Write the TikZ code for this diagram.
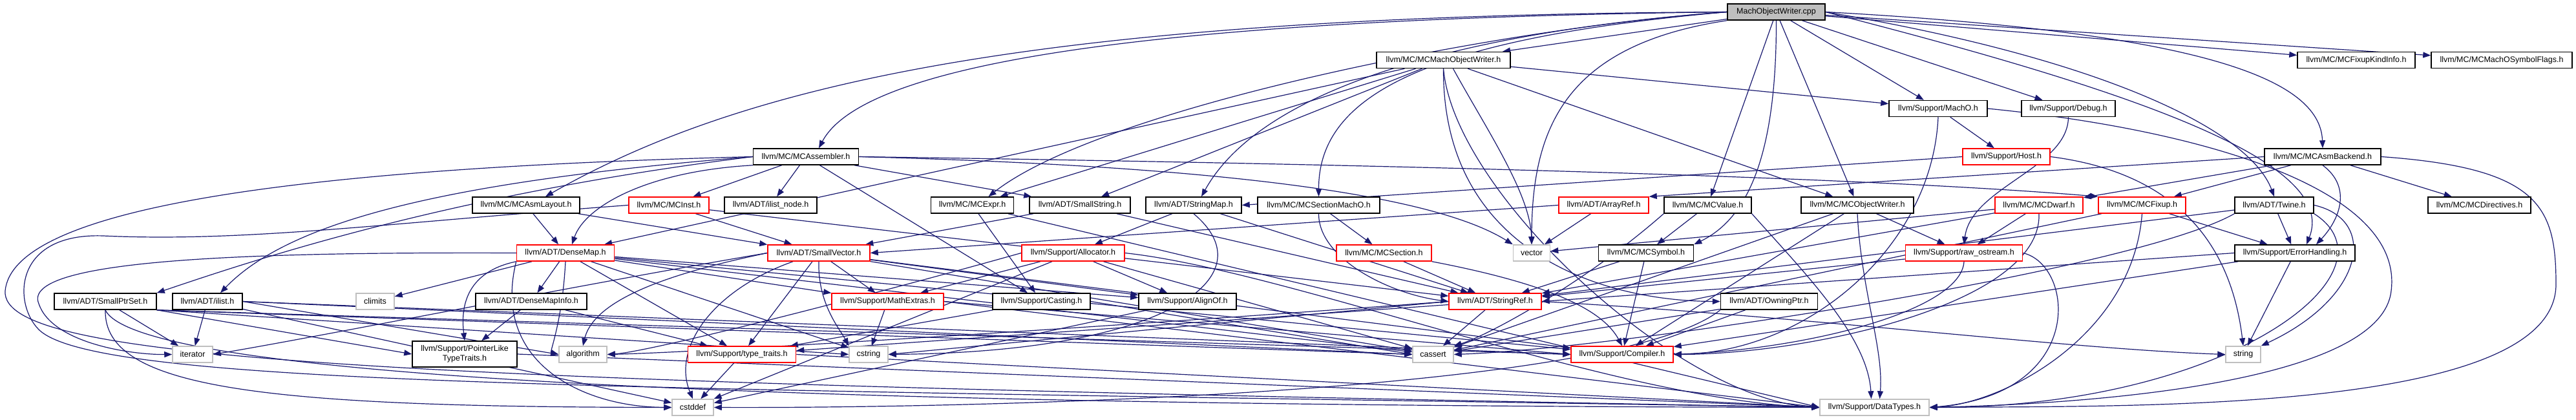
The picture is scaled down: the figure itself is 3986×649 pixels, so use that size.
\documentclass[tikz,border=0pt]{standalone}
\usepackage{fontspec}
\setmainfont{Liberation Sans}
\usetikzlibrary{arrows.meta,calc}
\definecolor{edgec}{HTML}{191970}
\definecolor{sysgray}{HTML}{BFBFBF}
\definecolor{rootfill}{HTML}{BFBFBF}
\definecolor{trunc}{HTML}{FF0000}
\pgfdeclarelayer{bg}
\pgfsetlayers{bg,main}
\newcommand\dxfont{\fontsize{12.5}{15}\selectfont}
\tikzset{
  box/.style={draw=black, fill=white, line width=1.5pt, minimum height=25pt, inner xsep=0pt, inner ysep=0pt, font=\dxfont, text=black, align=center},
  rbox/.style={box, draw=trunc},
  gbox/.style={box, draw=sysgray},
  e/.style={draw=edgec, line width=1.2pt, -{Triangle[length=12pt,width=9pt]}},
}
\begin{document}
\begin{tikzpicture}[x=1pt,y=-1pt]
\useasboundingbox (0,0) rectangle (3986,649);
% row 0
\node[box,fill=rootfill,minimum width=151pt] (cpp) at (2748.5,18.5) {MachObjectWriter.cpp};
% row 1
\node[box,minimum width=207pt] (mow) at (2233.5,93) {llvm/MC/MCMachObjectWriter.h};
\node[box,minimum width=182pt] (fki) at (3646,93) {llvm/MC/MCFixupKindInfo.h};
\node[box,minimum width=218pt] (msf) at (3871,93) {llvm/MC/MCMachOSymbolFlags.h};
% row 2
\node[box,minimum width=152pt] (macho) at (2999,168) {llvm/Support/MachO.h};
\node[box,minimum width=145pt] (debug) at (3200.5,168) {llvm/Support/Debug.h};
% row 3
\node[box,minimum width=163pt] (asm) at (1247,242.5) {llvm/MC/MCAssembler.h};
\node[rbox,minimum width=135pt] (host) at (3104.5,242.5) {llvm/Support/Host.h};
\node[box,minimum width=180pt] (backend) at (3594,242.5) {llvm/MC/MCAsmBackend.h};
% row 4
\node[box,minimum width=166pt] (layout) at (814,317.5) {llvm/MC/MCAsmLayout.h};
\node[rbox,minimum width=124pt] (inst) at (1035,317.5) {llvm/MC/MCInst.h};
\node[box,minimum width=143pt] (ilnode) at (1192.5,317.5) {llvm/ADT/ilist\_node.h};
\node[box,minimum width=128pt] (expr) at (1504.5,317.5) {llvm/MC/MCExpr.h};
\node[box,minimum width=156pt] (sstr) at (1671,317.5) {llvm/ADT/SmallString.h};
\node[box,minimum width=148pt] (smap) at (1847,317.5) {llvm/ADT/StringMap.h};
\node[box,minimum width=189pt] (secmo) at (2040.5,317.5) {llvm/MC/MCSectionMachO.h};
\node[rbox,minimum width=139pt] (aref) at (2481.5,317.5) {llvm/ADT/ArrayRef.h};
\node[box,minimum width=135pt] (value) at (2642.5,317.5) {llvm/MC/MCValue.h};
\node[box,minimum width=174pt] (ow) at (2874,317.5) {llvm/MC/MCObjectWriter.h};
\node[rbox,minimum width=136pt] (dwarf) at (3155,317.5) {llvm/MC/MCDwarf.h};
\node[rbox,minimum width=135pt] (fixup) at (3314.5,317.5) {llvm/MC/MCFixup.h};
\node[box,minimum width=122pt] (twine) at (3519,317.5) {llvm/ADT/Twine.h};
\node[box,minimum width=159pt] (dirs) at (3836.5,317.5) {llvm/MC/MCDirectives.h};
% row 5
\node[rbox,minimum width=151pt] (dmap) at (875,391.5) {llvm/ADT/DenseMap.h};
\node[rbox,minimum width=158pt] (svec) at (1267,391.5) {llvm/ADT/SmallVector.h};
\node[rbox,minimum width=159pt] (alloc) at (1660.5,391.5) {llvm/Support/Allocator.h};
\node[rbox,minimum width=147pt] (section) at (2141.5,391.5) {llvm/MC/MCSection.h};
\node[gbox,minimum width=57pt] (vector) at (2370,391.5) {vector};
\node[box,minimum width=147pt] (symbol) at (2547,391.5) {llvm/MC/MCSymbol.h};
\node[rbox,minimum width=181pt] (rawos) at (3039,391.5) {llvm/Support/raw\_ostream.h};
\node[box,minimum width=186pt] (errh) at (3551,391.5) {llvm/Support/ErrorHandling.h};
% row 6
\node[box,minimum width=158pt] (sps) at (163,466.5) {llvm/ADT/SmallPtrSet.h};
\node[box,minimum width=108pt] (ilist) at (321,466.5) {llvm/ADT/ilist.h};
\node[gbox,minimum width=59pt] (climits) at (580.5,466.5) {climits};
\node[box,minimum width=172pt] (dmi) at (822,466.5) {llvm/ADT/DenseMapInfo.h};
\node[rbox,minimum width=173pt] (mathx) at (1373.5,466.5) {llvm/Support/MathExtras.h};
\node[box,minimum width=151pt] (casting) at (1611.5,466.5) {llvm/Support/Casting.h};
\node[box,minimum width=151pt] (alignof) at (1837.5,466.5) {llvm/Support/AlignOf.h};
\node[rbox,minimum width=143pt] (sref) at (2313.5,466.5) {llvm/ADT/StringRef.h};
\node[box,minimum width=150pt] (owning) at (2737.5,466.5) {llvm/ADT/OwningPtr.h};
% row 7
\node[gbox,minimum width=62pt] (iterator) at (298,548.5) {iterator};
\node[box,minimum width=162pt,minimum height=40pt] (plt) at (719,548) {llvm/Support/PointerLike\\TypeTraits.h};
\node[gbox,minimum width=74pt] (algorithm) at (902,548.5) {algorithm};
\node[rbox,minimum width=167pt] (ttraits) at (1148,548.5) {llvm/Support/type\_traits.h};
\node[gbox,minimum width=60pt] (cstring) at (1344,548.5) {cstring};
\node[gbox,minimum width=63pt] (cassert) at (2217.5,548.5) {cassert};
\node[rbox,minimum width=158pt] (compiler) at (2510,548.5) {llvm/Support/Compiler.h};
\node[gbox,minimum width=54pt] (string) at (3471,548.5) {string};
% row 8
\node[gbox,minimum width=64pt] (cstddef) at (1072,630.5) {cstddef};
\node[gbox,minimum width=169pt] (datatypes) at (2900.5,630.5) {llvm/Support/DataTypes.h};

\begin{pgfonlayer}{bg}
\fill[white] (0,0) rectangle (3986,649);
% MachObjectWriter.cpp
\draw[e] (cpp) -- (mow);
\draw[e] (cpp.west) .. controls (1700,30) and (1330,110) .. ($(asm.north)+(20,0)$);
\draw[e] (cpp.west) .. controls (1600,24) and (1150,130) .. ($(layout.north)+(30,0)$);
\draw[e] (cpp.west) .. controls (2300,45) and (1700,170) .. ($(expr.north)+(25,0)$);
\draw[e] (cpp.west) .. controls (2250,50) and (1950,140) .. ($(smap.north)+(12,0)$);
\draw[e] (cpp.west) .. controls (2200,60) and (2040,150) .. (secmo.north);
\draw[e] (cpp.south west) .. controls (2420,70) and (2370,200) .. (vector.north);
\draw[e] (cpp) -- (value);
\draw[e] (cpp.south) .. controls (2749,250) and (2700,340) .. (symbol.north east);
\draw[e] (cpp) -- (ow);
\draw[e] (cpp) -- (macho);
\draw[e] (cpp) -- (debug);
\draw[e] (cpp.east) .. controls (3250,90) and (3480,200) .. (twine.north);
\draw[e] (cpp.east) .. controls (3300,140) and (3620,250) .. ($(errh.north)+(18,0)$);
\draw[e] (cpp.east) .. controls (3400,50) and (3590,120) .. (backend.north);
\draw[e] (cpp) -- (fki);
\draw[e] (cpp) -- (msf);
% MCMachObjectWriter.h
\draw[e] (mow) -- (dmap);
\draw[e] (mow) -- (sstr);
\draw[e] (mow) -- (expr);
\draw[e] (mow.south) .. controls (2232,390) and (2480,466) .. (owning.west);
\draw[e] (mow) -- (ow);
\draw[e] (mow) -- (macho);
\draw[e] (mow.south) .. controls (2250,300) and (2600,620) .. (datatypes.west);
\draw[e] ($(mow.south)+(15,0)$) .. controls (2300,200) and (2368,300) .. (vector.north);
% MCAssembler.h
\draw[e] (asm.east) .. controls (2200,255) and (2900,275) .. (fixup.north west);
\draw[e] (asm) -- (inst);
\draw[e] (asm.south west) .. controls (1000,265) and (905,320) .. ($(dmap.north)+(10,0)$);
\draw[e] (asm.west) .. controls (700,300) and (400,400) .. (sps.north east);
\draw[e] (asm) -- (sstr);
\draw[e] (asm.west) .. controls (700,280) and (450,340) .. ($(ilist.north)+(20,0)$);
\draw[e] (asm) -- (ilnode);
\draw[e] (asm) -- (casting);
\draw[e] (asm.west) .. controls (400,262) and (20,330) .. (8,450) .. controls (0,560) and (600,590) .. (datatypes.west);
\draw[e] (asm.east) .. controls (1800,255) and (2200,290) .. (vector.north west);
% MCAsmBackend.h
\draw[e] (backend.west) -- (aref.north east);
\draw[e] (backend) -- (dirs);
\draw[e] (backend) -- (dwarf);
\draw[e] (backend) -- (fixup);
\draw[e] (backend.east) .. controls (3930,260) and (3955,320) .. (3955,440) .. controls (3955,640) and (3300,628) .. (datatypes.east);
\draw[e] (backend.south) .. controls (3640,290) and (3620,340) .. ($(errh.north)+(33,0)$);
% Twine.h
\draw[e] (twine.east) .. controls (3680,340) and (3660,460) .. (string.north east);
\draw[e] (twine.south east) .. controls (3720,420) and (3450,630) .. (datatypes.east);
\draw[e] (twine) -- (errh);
\draw[e] (twine) -- (sref);
\draw[e] (twine.south west) .. controls (3300,420) and (2500,540) .. (cassert.east);
% MachO.h, Debug.h, Host.h
\draw[e] (macho) -- (host);
\draw[e] (macho.south) .. controls (2990,380) and (2800,545) .. (compiler.east);
\draw[e] (macho.east) .. controls (3400,200) and (3720,290) .. (3700,450) .. controls (3685,590) and (3250,625) .. (datatypes.east);
\draw[e] (debug.south) .. controls (3200,260) and (3050,290) .. (rawos.north);
\draw[e] (host.west) -- (smap.east);
\draw[e] (host.east) .. controls (3350,265) and (3450,360) .. (string.north);
% row 4 headers
\draw[e] (layout) -- (dmap);
\draw[e] (layout) -- (svec);
\draw[e] (inst) -- (svec);
\draw[e] (inst) -- (sref);
\draw[e] (inst.west) .. controls (600,345) and (380,375) .. (160,365) .. controls (20,360) and (20,470) .. (60,510) .. controls (150,600) and (1000,600) .. (datatypes.west);
\draw[e] (expr) -- (casting);
\draw[e] (expr) -- (datatypes.west);
\draw[e] (sstr) -- (svec);
\draw[e] (sstr) -- (sref);
\draw[e] (smap) -- (sref);
\draw[e] (smap) -- (alloc);
\draw[e] (smap.south) .. controls (1965,430) and (1800,545) .. (cstring.east);
\draw[e] (secmo) -- (section);
\draw[e] (secmo.south) .. controls (2040,400) and (2150,455) .. (sref.west);
\draw[e] (aref) -- (vector);
\draw[e] (aref.west) -- (svec.east);
\draw[e] (value) -- (symbol);
\draw[e] (value.south east) .. controls (2790,420) and (2890,520) .. ($(datatypes.north)+(-5,0)$);
\draw[e] (value.south west) .. controls (2450,440) and (2300,520) .. (cassert.north east);
\draw[e] (ow) -- (rawos);
\draw[e] (ow) -- (compiler);
\draw[e] (ow.south) .. controls (2880,450) and (2915,540) .. ($(datatypes.north)+(8,0)$);
\draw[e] (ow) -- (cassert);
\draw[e] (dwarf) -- (sref);
\draw[e] (dwarf) -- (vector);
\draw[e] (dwarf) -- (rawos);
\draw[e] (dwarf.south) .. controls (3160,470) and (2800,548) .. (compiler.east);
\draw[e] (fixup) -- (errh);
\draw[e] (fixup.south) .. controls (3300,520) and (3100,625) .. (datatypes.east);
\draw[e] (fixup) -- (cassert);
% DenseMap.h
\draw[e] (dmap) -- (dmi);
\draw[e] (dmap.south west) .. controls (725,420) and (712,470) .. (plt.north);
\draw[e] (dmap) -- (climits);
\draw[e] (dmap.west) .. controls (400,390) and (30,400) .. (60,470) .. controls (80,530) and (200,549) .. (iterator.west);
\draw[e] (dmap.south) .. controls (870,500) and (850,545) .. (algorithm.west);
\draw[e] (dmap) -- (ttraits);
\draw[e] (dmap) -- (mathx);
\draw[e] (dmap) -- (cstring);
\draw[e] (dmap) -- (cassert);
\draw[e] (dmap.south west) .. controls (760,560) and (900,630) .. (cstddef.west);
\draw[e] (dmap) -- (alignof);
\draw[e] (dmap) -- (compiler);
% SmallVector.h
\draw[e] (svec) -- (alignof);
\draw[e] (svec) -- (compiler);
\draw[e] (svec) -- (mathx);
\draw[e] (svec) -- (ttraits);
\draw[e] (svec.west) .. controls (1050,420) and (920,460) .. (algorithm.north);
\draw[e] (svec) -- (cassert);
\draw[e] ($(svec.south)+(-40,0)$) .. controls (1100,450) and (1040,540) .. (cstddef.north);
\draw[e] (svec.south) .. controls (1265,470) and (1300,510) .. (cstring.north west);
\draw[e] (svec.west) .. controls (900,440) and (500,520) .. (iterator.east);
% Allocator.h
\draw[e] (alloc) -- (alignof);
\draw[e] (alloc) -- (mathx);
\draw[e] (alloc.west) .. controls (1300,470) and (1000,545) .. (algorithm.east);
\draw[e] (alloc) -- (cassert);
\draw[e] (alloc) -- (cstddef);
\draw[e] (alloc.east) .. controls (2000,420) and (2500,620) .. (datatypes.west);
% row 5 others
\draw[e] (section) -- (sref);
\draw[e] (section.south east) .. controls (2400,440) and (2480,480) .. (compiler.north);
\draw[e] (symbol) -- (sref);
\draw[e] (symbol) -- (compiler);
\draw[e] (rawos) -- (sref);
\draw[e] (rawos.south) .. controls (3035,480) and (2800,540) .. (compiler.east);
\draw[e] (rawos.east) .. controls (3210,410) and (3230,610) .. (datatypes.east);
\draw[e] (errh) -- (string);
\draw[e] (errh.west) -- (sref.east);
\draw[e] (errh) -- (compiler);
% SmallPtrSet.h, ilist.h
\draw[e] (sps) -- (iterator);
\draw[e] (sps.south) .. controls (160,600) and (400,630) .. (cstddef.west);
\draw[e] (sps.south) .. controls (220,600) and (1500,628) .. (datatypes.west);
\draw[e] (sps.south east) -- (plt.west);
\draw[e] (sps.south east) -- (cstring.west);
\draw[e] (sps.south east) -- (cassert.west);
\draw[e] (sps.south east) -- (compiler.west);
\draw[e] (ilist) -- (iterator);
\draw[e] (ilist.east) -- (compiler.west);
\draw[e] (ilist.east) -- (algorithm.west);
\draw[e] (ilist.east) -- (cassert.west);
\draw[e] (ilist) -- (cstddef);
% row 6 others
\draw[e] (dmi) -- (plt);
\draw[e] (dmi) -- (ttraits);
\draw[e] (mathx) -- (cstring);
\draw[e] (mathx.east) -- (datatypes.west);
\draw[e] (mathx.east) -- (compiler.west);
\draw[e] (casting) -- (ttraits);
\draw[e] (casting.east) -- (cassert.west);
\draw[e] (alignof) -- (cstddef);
\draw[e] (sref) -- (ttraits);
\draw[e] (sref.west) .. controls (1800,500) and (1100,545) .. (algorithm.east);
\draw[e] (sref) -- (cassert);
\draw[e] (sref.west) -- (cstring.east);
\draw[e] (sref.east) .. controls (2800,490) and (3200,540) .. (string.west);
\draw[e] (owning) -- (compiler);
\draw[e] (owning) -- (cassert);
\draw[e] (owning.south west) .. controls (2500,610) and (1500,632) .. (cstddef.east);
% row 7
\draw[e] (plt.east) -- (datatypes.west);
\draw[e] (ttraits) -- (cstddef);
\draw[e] (ttraits.east) -- (datatypes.west);
\end{pgfonlayer}
\end{tikzpicture}
\end{document}
